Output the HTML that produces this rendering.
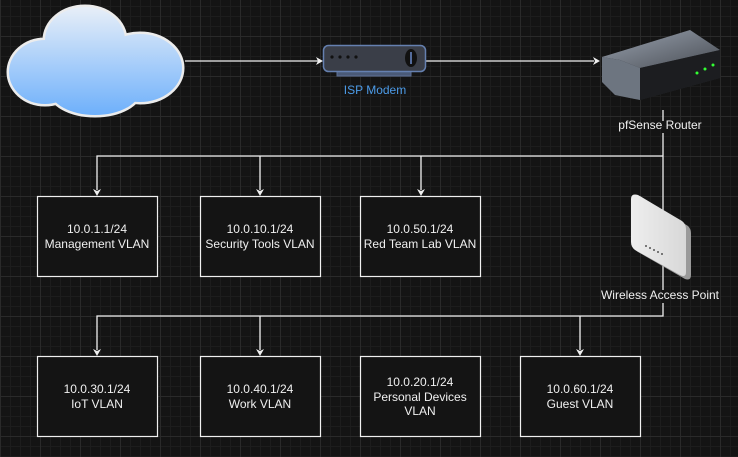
<!DOCTYPE html>
<html><head><meta charset="utf-8"><style>
html,body{margin:0;padding:0;}
body{width:738px;height:457px;overflow:hidden;background:#141414;
background-image:
linear-gradient(#2a2a2a 1px,transparent 1px),
linear-gradient(90deg,#2a2a2a 1px,transparent 1px),
linear-gradient(#1d1d1d 1px,transparent 1px),
linear-gradient(90deg,#1d1d1d 1px,transparent 1px);
background-size:40px 40px,40px 40px,10px 10px,10px 10px;
background-position:0 -4px,0 0,0 -4px,0 0;
font-family:"Liberation Sans",sans-serif;}
svg{position:absolute;left:0;top:0}
</style></head><body>
<svg width="738" height="457" viewBox="0 0 738 457">
<defs>
<linearGradient id="cg" gradientUnits="userSpaceOnUse" x1="0" y1="8" x2="0" y2="115"><stop offset="0" stop-color="#e6eef8"/><stop offset="1" stop-color="#6eb0fb"/></linearGradient>
<linearGradient id="rg" x1="0" y1="0" x2="1" y2="1"><stop offset="0" stop-color="#9aa3b0"/><stop offset="1" stop-color="#4a4e55"/></linearGradient>
<linearGradient id="ag" x1="0" y1="0" x2="1" y2="0"><stop offset="0" stop-color="#eeeeee"/><stop offset="1" stop-color="#d8d8d8"/></linearGradient>
</defs>
<!-- cloud -->
<g stroke="#ececec" stroke-width="5">
<ellipse cx="45" cy="72" rx="36" ry="32"/>
<ellipse cx="85" cy="40" rx="40" ry="33"/>
<ellipse cx="140" cy="68" rx="42" ry="34"/>
<ellipse cx="95" cy="90" rx="45" ry="25"/>
</g>
<g fill="url(#cg)">
<ellipse cx="45" cy="72" rx="36" ry="32"/>
<ellipse cx="85" cy="40" rx="40" ry="33"/>
<ellipse cx="140" cy="68" rx="42" ry="34"/>
<ellipse cx="95" cy="90" rx="45" ry="25"/>
<rect x="45" y="50" width="100" height="45"/>
</g>
<!-- arrows top -->
<g stroke="#f0f0f0" stroke-width="1.3" fill="none">
<line x1="185" y1="61" x2="318" y2="61"/>
<line x1="425" y1="61" x2="594" y2="61"/>
<path d="M663,110 V121 M663,133 V156 H97 V190 M260,156 V190 M421,156 V190 M663,156 V290 M663,303 V316 H97 V350 M260,316 V350 M580,316 V350"/>
</g>
<g fill="#f0f0f0">
<path d="M323,61 l-7,-4 l2,4 l-2,4z"/>
<path d="M600,61 l-7,-4 l2,4 l-2,4z"/>
<path d="M97,196 l-4,-7 l4,2 l4,-2z"/><path d="M260,196 l-4,-7 l4,2 l4,-2z"/><path d="M421,196 l-4,-7 l4,2 l4,-2z"/>
<path d="M97,356 l-4,-7 l4,2 l4,-2z"/><path d="M260,356 l-4,-7 l4,2 l4,-2z"/><path d="M580,356 l-4,-7 l4,2 l4,-2z"/>
</g>
<!-- modem -->
<rect x="337" y="70" width="74" height="6" fill="#4a5a78" stroke="#5d7096"/>
<rect x="323.5" y="45.5" width="102" height="26" rx="5" fill="#3a3e48" stroke="#6580b0" stroke-width="1.5"/>
<g fill="#111"><circle cx="332" cy="57" r="1.6"/><circle cx="340" cy="57" r="1.6"/><circle cx="348" cy="57" r="1.6"/><circle cx="356" cy="57" r="1.6"/></g>
<ellipse cx="411" cy="58" rx="6" ry="9" fill="#111"/>
<line x1="411" y1="52" x2="411" y2="64" stroke="#6a8acb" stroke-width="1.5"/>
<text x="375" y="94" fill="#4c9be8" font-size="12" text-anchor="middle">ISP Modem</text>
<!-- router -->
<path d="M602,57 L690,30 L720,50 L720,78 L640,100 L615,95 L602,82Z" fill="#2a2c30"/>
<path d="M602,57 L690,30 L720,50 L640,68 L620,60 Z" fill="url(#rg)"/>
<path d="M602,57 L620,60 L640,68 L640,100 L615,95 L602,82Z" fill="#6d7580"/>
<path d="M640,68 L720,50 L720,78 L640,100Z" fill="#1c1d20"/>
<circle cx="697" cy="73" r="1.5" fill="#3f3"/><circle cx="705" cy="69" r="1.5" fill="#3f3"/><circle cx="713" cy="65" r="1.5" fill="#3f3"/>
<text x="660" y="129" fill="#f0f0f0" font-size="12" text-anchor="middle">pfSense Router</text>
<!-- AP -->
<path d="M640,196 L688,226 Q691,229 691,233 L691,275 Q691,281 685,279 L638,252 Q633,249 633,244 L633,201 Q633,195 640,196Z" fill="#9a9a9a"/>
<path d="M638,195 L682,221 Q686,224 686,229 L686,272 Q686,278 680,275 L635,250 Q631,247 631,242 L631,199 Q631,193 638,195Z" fill="url(#ag)"/>
<g fill="#555"><circle cx="646" cy="246" r="1"/><circle cx="650" cy="248" r="1"/><circle cx="654" cy="250" r="1"/><circle cx="658" cy="252" r="1"/><circle cx="662" cy="254" r="1"/></g>
<text x="660" y="299" fill="#f0f0f0" font-size="12" text-anchor="middle">Wireless Access Point</text>
<!-- boxes -->
<g fill="#141414" stroke="#f0f0f0" stroke-width="1.2">
<rect x="37.5" y="196.5" width="120" height="80"/><rect x="200.5" y="196.5" width="120" height="80"/><rect x="360.5" y="196.5" width="120" height="80"/>
<rect x="37.5" y="356.5" width="120" height="80"/><rect x="200.5" y="356.5" width="120" height="80"/><rect x="360.5" y="356.5" width="120" height="80"/><rect x="520.5" y="356.5" width="120" height="80"/>
</g>
<g fill="#f0f0f0" font-size="12" text-anchor="middle">
<text x="97" y="233">10.0.1.1/24</text><text x="97" y="248">Management VLAN</text>
<text x="260" y="233">10.0.10.1/24</text><text x="260" y="248">Security Tools VLAN</text>
<text x="420" y="233">10.0.50.1/24</text><text x="420" y="248">Red Team Lab VLAN</text>
<text x="97" y="393">10.0.30.1/24</text><text x="97" y="408">IoT VLAN</text>
<text x="260" y="393">10.0.40.1/24</text><text x="260" y="408">Work VLAN</text>
<text x="420" y="386">10.0.20.1/24</text><text x="420" y="401">Personal Devices</text><text x="420" y="415">VLAN</text>
<text x="580" y="393">10.0.60.1/24</text><text x="580" y="408">Guest VLAN</text>
</g>
</svg>
</body></html>
